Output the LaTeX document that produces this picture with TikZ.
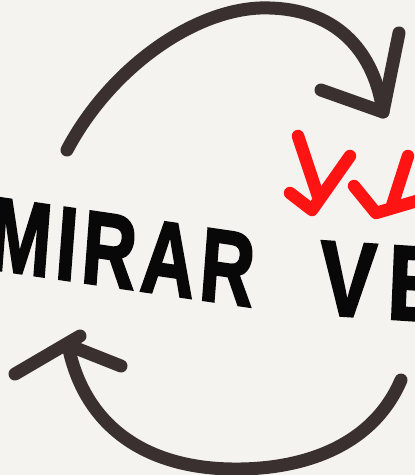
\documentclass[tikz,border=0pt]{standalone}
\usepackage{fontspec}
\newfontfamily\handfont{Liberation Sans}[BoldFont={Liberation Sans Bold}, BoldFeatures={FakeBold=2.5}]
\definecolor{paper}{HTML}{F4F3F0}
\definecolor{ink}{HTML}{3A3030}
\definecolor{mark}{HTML}{FF1414}
\definecolor{letters}{HTML}{080808}
\tikzset{
  cyclearrow/.style={draw=ink, line width=13pt, line cap=round, line join=round},
  redmark/.style={draw=mark, line width=12.5pt, line cap=round, line join=round},
  word/.style={inner sep=0pt, text=letters, font=\handfont\bfseries}
}
\begin{document}
\begin{tikzpicture}[x=1pt,y=-1pt]
  \fill[paper] (0,0) rectangle (415,475);
  \useasboundingbox (0,0) rectangle (415,475);
  \clip (0,0) rectangle (415,475);

  % words
  \node[word, anchor=center, xscale=0.72, rotate=-6, font=\handfont\bfseries\fontsize{104}{104}\selectfont\addfontfeature{LetterSpace=7}] (mirar) at (122,252) {MIRAR};
  \node[word, anchor=base west, xscale=0.8, rotate=-3, font=\handfont\bfseries\fontsize{106}{106}\selectfont\addfontfeature{LetterSpace=14}] (ve) at (318,314) {VE};

  % top arrow: MIRAR -> VE
  \coordinate (t0) at (67,150);
  \coordinate (tpeak) at (270,8);
  \coordinate (ttip) at (383,112);
  \coordinate (tl) at (321,90);
  \coordinate (tr) at (399,33);
  \path[cyclearrow] (t0) .. controls (112,65) and (200,5) .. (tpeak)
        .. controls (340,10) and (375,55) .. (ttip);
  \path[cyclearrow] (tl) -- (ttip) -- (tr);

  % bottom arrow: VE -> MIRAR
  \coordinate (b0) at (401,380);
  \coordinate (bbot) at (232,469);
  \coordinate (btip) at (68,345);
  \coordinate (bl) at (15,374);
  \coordinate (bla) at (80,336);
  \coordinate (br) at (121,366);
  \path[cyclearrow] (b0) .. controls (372,448) and (300,470) .. (bbot)
        .. controls (150,468) and (85,430) .. (btip);
  \path[cyclearrow] (bl) -- (bla);
  \path[cyclearrow] (br) -- (btip);

  % red marks above VE
  \path[redmark] (298,136) -- (318,196);
  \path[redmark] (290,193) -- (312,210) -- (350,156);
  \path[redmark] (354,186) -- (376,213) -- (420,200);
  \path[redmark] (408,156) -- (392,206);
\end{tikzpicture}
\end{document}
